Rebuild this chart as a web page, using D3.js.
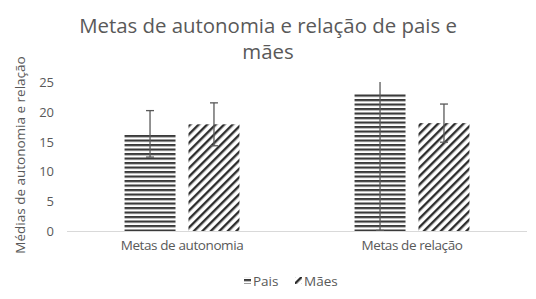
<!DOCTYPE html>
<html>
<head>
<meta charset="utf-8">
<script src="https://cdn.jsdelivr.net/npm/d3@7"></script>
<style>
  body { margin: 0; background: #fff; }
  text { font-family: "Open Sans", "Noto Sans", sans-serif; fill: #595959; }
</style>
</head>
<body>
<div id="chart"></div>
<script>
const categories = ["Metas de autonomia", "Metas de relação"];
const series = ["Pais", "Mães"];
const paisValues = [16.3, 23.1];
const paisErrors = [3.9, 23.0];
const maesValues = [17.9, 18.1];
const maesErrors = [3.6, 3.2];
const yTicks = [0, 5, 10, 15, 20, 25];

const width = 536, height = 299;
const margin = { left: 67, right: 9, top: 82, bottom: 68 };

const svg = d3.select("#chart")
  .append("svg")
  .attr("width", width)
  .attr("height", height);

// hatch patterns
const defs = svg.append("defs");
const hp = defs.append("pattern")
  .attr("id", "hstripe")
  .attr("patternUnits", "userSpaceOnUse")
  .attr("width", 8).attr("height", 4.5);
hp.append("rect").attr("width", 8).attr("height", 4.5).attr("fill", "#fff");
hp.append("rect").attr("y", 0).attr("width", 8).attr("height", 2.2).attr("fill", "#3a3a3a");

const dp = defs.append("pattern")
  .attr("id", "dstripe")
  .attr("patternUnits", "userSpaceOnUse")
  .attr("width", 6).attr("height", 6)
  .attr("patternTransform", "rotate(45)");
dp.append("rect").attr("width", 6).attr("height", 6).attr("fill", "#fff");
dp.append("rect").attr("x", 0).attr("width", 2.4).attr("height", 6).attr("fill", "#2e2e2e");

const fills = ["url(#hstripe)", "url(#dstripe)"];

const x0 = d3.scaleBand()
  .domain(categories)
  .range([margin.left, width - margin.right])
  .paddingInner(0)
  .paddingOuter(0);

const x1 = d3.scaleBand()
  .domain(series)
  .range([0, x0.bandwidth()])
  .paddingInner(0.203)
  .paddingOuter(0.9);

const y = d3.scaleLinear()
  .domain([0, 25])
  .range([height - margin.bottom, margin.top]);

// title
svg.append("text")
  .attr("x", 268).attr("y", 33)
  .attr("text-anchor", "middle")
  .style("font-size", "20.4px")
  .text("Metas de autonomia e relação de pais e");
svg.append("text")
  .attr("x", 268).attr("y", 59)
  .attr("text-anchor", "middle")
  .style("font-size", "20.4px")
  .text("mães");

// y axis labels
svg.append("g")
  .selectAll("text")
  .data(yTicks)
  .join("text")
  .attr("x", 54)
  .attr("y", d => y(d) + 5)
  .attr("text-anchor", "end")
  .style("font-size", "13px")
  .text(d => d);

// y axis title
svg.append("text")
  .attr("transform", `translate(25, 155) rotate(-90)`)
  .attr("text-anchor", "middle")
  .style("font-size", "13.5px")
  .text("Médias de autonomia e relação");

const rows = categories.map((c, i) => ({
  category: c,
  values: [
    { s: series[0], v: paisValues[i], e: paisErrors[i] },
    { s: series[1], v: maesValues[i], e: maesErrors[i] }
  ]
}));

const groups = svg.append("g")
  .selectAll("g")
  .data(rows)
  .join("g")
  .attr("transform", d => `translate(${x0(d.category)},0)`);

groups.selectAll("rect")
  .data(d => d.values)
  .join("rect")
  .attr("x", d => x1(d.s))
  .attr("y", d => y(d.v))
  .attr("width", x1.bandwidth())
  .attr("height", d => y(0) - y(d.v))
  .attr("fill", (d, i) => fills[i]);

// error bars, clipped to the axis range
const eb = groups.selectAll("g.err")
  .data(d => d.values)
  .join("g")
  .attr("class", "err")
  .attr("transform", d => `translate(${x1(d.s) + x1.bandwidth() / 2},0)`);

eb.append("line")
  .attr("y1", d => y(Math.max(0, d.v - d.e)))
  .attr("y2", d => y(Math.min(25, d.v + d.e)))
  .attr("stroke", "#595959")
  .attr("stroke-width", 1.3);

eb.filter(d => d.v + d.e <= 25)
  .append("line")
  .attr("x1", -4).attr("x2", 4)
  .attr("y1", d => y(d.v + d.e)).attr("y2", d => y(d.v + d.e))
  .attr("stroke", "#595959").attr("stroke-width", 1.3);

eb.filter(d => d.v - d.e >= 0)
  .append("line")
  .attr("x1", -4).attr("x2", 4)
  .attr("y1", d => y(d.v - d.e)).attr("y2", d => y(d.v - d.e))
  .attr("stroke", "#595959").attr("stroke-width", 1.3);

// baseline
svg.append("line")
  .attr("x1", margin.left).attr("x2", width - margin.right)
  .attr("y1", y(0) + 0.5).attr("y2", y(0) + 0.5)
  .attr("stroke", "#d9d9d9")
  .attr("stroke-width", 1);

// category labels
svg.append("g")
  .selectAll("text")
  .data(categories)
  .join("text")
  .attr("x", d => x0(d) + x0.bandwidth() / 2)
  .attr("y", 250)
  .attr("text-anchor", "middle")
  .style("font-size", "13.5px")
  .style("letter-spacing", "-0.4px")
  .text(d => d);

// legend
const legend = svg.append("g");
const legendX = [244, 295];
series.forEach((s, i) => {
  legend.append("rect")
    .attr("x", legendX[i]).attr("y", 277)
    .attr("width", 7).attr("height", 7)
    .attr("fill", fills[i]);
  legend.append("text")
    .attr("x", legendX[i] + 9).attr("y", 286)
    .style("font-size", "13.5px")
    .text(s);
});
</script>
</body>
</html>
